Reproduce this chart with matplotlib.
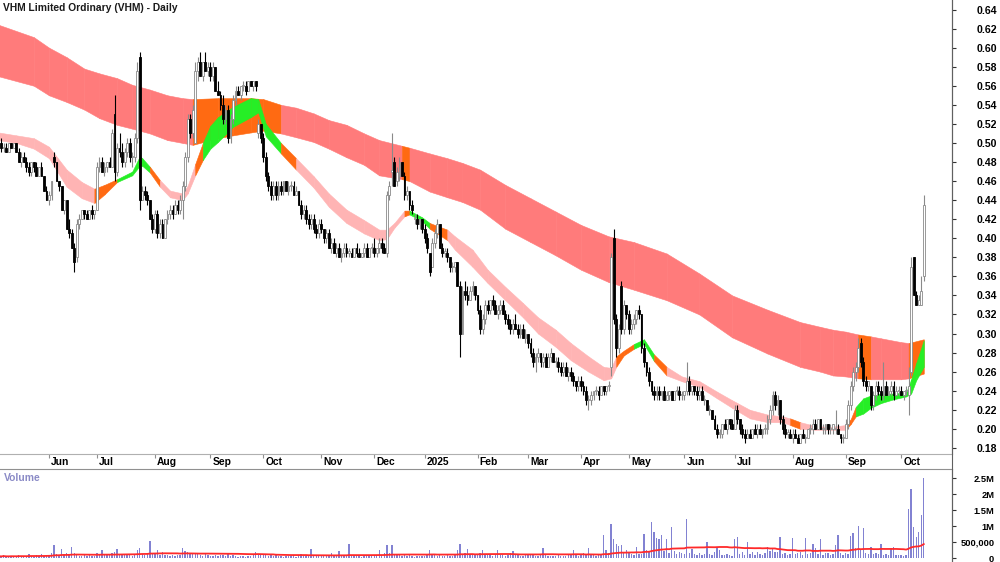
import numpy as np
import pandas as pd
import matplotlib
matplotlib.use('Agg')
import matplotlib.pyplot as plt
import matplotlib.transforms as mtransforms
from matplotlib.lines import Line2D

plt.rcParams['font.family'] = ['Liberation Sans', 'DejaVu Sans']

title = 'VHM Limited Ordinary (VHM) - Daily'

# ASX trading calendar for the window shown
holidays = ['2024-06-10', '2024-12-25', '2024-12-26', '2025-01-01', '2025-01-27',
            '2025-04-18', '2025-04-21', '2025-04-25', '2025-06-09']

# daily prices in cents, one line per month (May 2024 .. Oct 2025)
opens = [
    49, 50, 49.5, 49.5, 49, 50, 49.5, 50, 49, 48, 48.5, 48, 47.5, 47, 48, 47.5, 46.5, 47.5, 46.5, 45,
    44, 44.5, 48.5, 48, 46, 45.5, 43, 44, 41, 40.5, 39, 38, 41.5, 42, 43, 42.5, 42, 43, 42.5,
    43, 47.5, 48, 47, 47.5, 48, 47.5, 53, 47, 49.5, 49, 48, 49, 50, 48.5, 48.5, 50.5, 59, 44, 45, 44.5, 44, 42,
    41, 42.5, 40.5, 41.5, 40, 42, 42.5, 43, 42.5, 43.5, 43, 44, 45.5, 48.5, 52.5, 51, 50, 57.5, 58.5, 57, 58.5, 57.5,
    58, 57, 58, 55.5, 55, 54, 52.5, 53.5, 50.5, 52.5, 54.5, 55.5, 55, 56, 56, 55.5, 56.5, 56, 56.5, 51, 52,
    50.5, 48.5, 46.5, 45.5, 44.5, 45.5, 44.5, 45.5, 45, 46, 45, 45.5, 45.5, 44.5, 45, 43.5, 42.5, 43, 42, 41.5, 42, 41, 40.5,
    41.5, 41, 40, 40.5, 39, 39.5, 38.5, 39, 38, 38.5, 39, 38.5, 38.5, 38, 39, 38.5, 38, 38.5, 39, 38, 39,
    39, 38.5, 39, 39.5, 39, 38.5, 44.5, 47, 48, 46, 46.5, 48, 46.5, 44.5, 45, 43.5, 42, 42, 41.5, 42,
    41, 40, 38.5, 37, 39.5, 40.5, 41.5, 39, 38.5, 38.5, 38, 37, 37, 37.5, 35, 30, 34.5, 34, 33.5, 34.5, 35,
    34, 32.5, 30.5, 31.5, 33, 32.5, 33.5, 33, 32, 32.5, 33, 32, 31.5, 31, 30.5, 31, 30.5, 30, 30.5, 29.5,
    30, 29, 28, 27, 27.5, 28, 27, 27.5, 26.5, 27.5, 28, 27, 27, 26.5, 26, 26.5, 25.5, 26, 25.5, 25, 24.5,
    25, 24.5, 24, 23, 23, 23.5, 24, 24, 23.5, 24.5, 24, 24.5, 26.5, 40, 31.5, 28.5, 35, 30.5, 33,
    32, 30.5, 31, 31.5, 32.5, 32, 28.5, 27, 26, 25, 24, 23.5, 24, 23.5, 24, 23, 23.5, 24, 23, 24, 24, 23.5,
    23.5, 24, 25, 24, 24.5, 24, 23.5, 24, 23, 23, 22, 22, 21, 20, 19.5, 19.5, 20.5, 20, 21, 20.5,
    20, 22, 21, 20, 19.5, 19, 19.5, 19, 20, 19.5, 20, 19.5, 20, 20, 21, 22, 23.5, 22.5, 23, 21, 20, 19.5, 19.5,
    19, 19.5, 19, 18.5, 19.5, 19, 19, 20, 20, 20.5, 20, 21, 20, 20, 20.5, 20, 20, 20, 20, 19.5, 19,
    19, 20.5, 22.5, 24.5, 26, 26.5, 29, 27, 25, 24.5, 24.5, 22.5, 23.5, 24.5, 24, 23.5, 24.5, 23.5, 24, 24.5, 23.5, 24,
    24, 23.5, 24, 23.5, 26, 38, 34, 33, 33, 36,
]
highs = [
    50, 50.5, 50, 50, 50, 50, 50, 50, 49.5, 49, 49, 48.5, 48, 48, 48, 48, 47.5, 48, 46.5, 45.5,
    45, 46, 49, 48, 46, 45.5, 44, 44, 42, 41, 39.5, 42, 42.5, 43, 43, 43, 43, 43.5, 43,
    48, 48.5, 48.5, 48, 48, 48.5, 51.5, 55, 50, 51, 50, 49.5, 50.5, 50.5, 49, 51, 58.5, 59.5, 45.5, 45.5, 45, 44, 42.5,
    43, 43, 42, 42, 42, 43, 43.5, 43.5, 44, 44, 44.5, 46, 49, 53, 53, 54, 58.5, 59, 59.5, 58.5, 59.5, 58.5,
    58.5, 58.5, 58, 56.5, 55.5, 55, 54, 54, 53, 55, 56, 56, 56, 56.5, 56.5, 56.5, 56.5, 56.5, 56.5, 52.5, 52,
    51, 49, 47, 46, 46, 46, 46, 46, 46, 46, 46, 46, 46, 45.5, 45, 44, 43.5, 43.5, 42.5, 42.5, 42.5, 41.5, 42,
    42, 41, 41, 41, 40, 40, 39.5, 39.5, 39, 39.5, 39.5, 39, 39, 39, 39.5, 39, 38.5, 39.5, 39.5, 39, 39.5,
    40, 39, 40, 40, 39.5, 45, 46, 51, 48.5, 47.5, 48.5, 48, 47, 45.5, 45, 44, 42.5, 42.5, 42, 42,
    41.5, 40.5, 38.5, 40, 41, 42, 41.5, 39.5, 39, 39, 38, 37.5, 37.5, 37.5, 35.5, 35, 35.5, 35, 35, 35.5, 35,
    34, 33, 32, 33.5, 33.5, 33.5, 34, 33.5, 33, 33.5, 33.5, 32.5, 32, 31.5, 31.5, 32, 31, 31, 31, 30.5,
    30, 29.5, 28.5, 28, 28.5, 28, 28, 28, 28, 28.5, 28, 27.5, 27.5, 27, 27, 27, 26.5, 26.5, 26, 25, 25.5,
    25.5, 25, 24.5, 23.5, 24, 24, 24.5, 24.5, 24.5, 24.5, 24.5, 25, 38.5, 41, 32, 31, 35.5, 33.5, 33,
    32.5, 31.5, 32, 32.5, 33, 32, 29, 27, 26.5, 25, 24.5, 24.5, 24.5, 24, 24.5, 24, 24, 24, 24, 24.5, 24.5, 24,
    24, 27, 25.5, 24.5, 24.5, 24.5, 24.5, 24.5, 23.5, 23, 22.5, 22, 21.5, 20.5, 20, 20.5, 21, 21, 21, 21,
    22.5, 22.5, 21, 20.5, 20, 20, 20, 20, 20.5, 20.5, 20.5, 20, 20.5, 21.5, 22.5, 24, 24, 23.5, 23, 21.5, 20.5, 20, 20,
    20, 20, 19.5, 19.5, 20, 19.5, 20, 20.5, 21, 21, 21, 21, 20.5, 20.5, 20.5, 20.5, 20.5, 22, 20.5, 19.5, 19.5,
    21, 23, 25, 26.5, 27, 29.5, 29.5, 27.5, 25.5, 25, 24.5, 24, 25, 25, 24.5, 27, 25, 24.5, 25, 25, 24.5, 24.5,
    24.5, 24, 24.5, 26.5, 38, 38, 34.5, 34, 36, 44.5,
]
lows = [
    48, 49, 49, 49, 49, 49.5, 49.5, 49, 48, 47.5, 48, 47, 46.5, 46.5, 47, 46.5, 46.5, 46.5, 45, 44,
    43.5, 44, 47.5, 46, 45, 43, 42.5, 41, 40, 39, 36.5, 37.5, 41, 42, 42, 42, 42, 42, 42,
    43, 47, 47, 46.5, 47, 47.5, 47.5, 46, 46.5, 48.5, 47.5, 47.5, 48.5, 48, 47.5, 48, 50, 43, 44, 44, 43.5, 42, 40.5,
    40.5, 40, 40, 40, 40, 41.5, 42, 42, 42.5, 42.5, 42.5, 42, 45, 48, 50.5, 50.5, 50, 56.5, 57, 56.5, 57.5, 57,
    56.5, 56.5, 55.5, 55, 53.5, 52, 52, 50, 50, 52, 54, 55, 54.5, 55.5, 55, 55.5, 56, 55.5, 55.5, 50.5, 50,
    48, 46, 45, 44, 44, 44, 44, 44.5, 44.5, 45, 44.5, 45, 44.5, 44.5, 43.5, 42, 42, 41.5, 41, 41, 40.5, 40, 40,
    40.5, 39.5, 39.5, 39, 38.5, 38.5, 38, 38, 37.5, 38, 38, 38, 38, 38, 38, 38, 38, 38, 38, 38, 38.5,
    38, 38, 38.5, 38.5, 38.5, 38, 44, 45.5, 45.5, 45.5, 46, 46.5, 44, 44, 43, 42.5, 41.5, 41, 41, 40.5,
    39.5, 38.5, 36, 37, 39, 40, 39, 38, 38, 37.5, 36.5, 36.5, 36.5, 35, 27.5, 30, 33.5, 33, 33.5, 34, 33.5,
    32, 30, 30, 31, 32, 32, 32.5, 32, 31.5, 32, 32, 31, 30.5, 30, 30, 30.5, 29.5, 29.5, 29.5, 29,
    28.5, 27.5, 26.5, 26, 27, 26.5, 26.5, 26.5, 26.5, 27, 27, 26.5, 26, 25.5, 25.5, 25.5, 25, 25, 24.5, 24, 24,
    24, 23.5, 22.5, 22, 22.5, 23, 23.5, 23, 23.5, 23.5, 23.5, 24, 25.5, 31, 27.5, 28, 30, 30, 31.5,
    30, 30, 30.5, 31, 31.5, 28, 26.5, 25.5, 24.5, 23.5, 23, 23, 23, 23, 23, 23, 23, 23, 23, 23.5, 23, 23,
    23, 23.5, 23.5, 23.5, 23.5, 23, 23, 23, 22.5, 22, 21.5, 21, 20, 19, 19, 19, 20, 19.5, 20, 20,
    20, 20.5, 19.5, 19, 18.5, 19, 19, 19, 19.5, 19, 19.5, 19, 19.5, 19.5, 20.5, 21.5, 22, 21.5, 20.5, 19.5, 19, 19, 19,
    18.5, 19, 18.5, 18.5, 19, 18.5, 19, 19.5, 19.5, 20, 20, 20, 19.5, 19.5, 19.5, 19.5, 19.5, 19.5, 19.5, 18.5, 18.5,
    19, 20, 22, 24, 25, 26, 26.5, 24.5, 24, 24, 22, 22, 23, 23.5, 23, 23, 23.5, 23.5, 23.5, 23, 23.5, 23.5,
    23.5, 23, 23.5, 21.5, 25.5, 34, 33, 33, 33, 35.5,
]
closes = [
    50, 49.5, 49.5, 49, 50, 49.5, 50, 49, 48, 48.5, 48, 47.5, 47, 48, 47.5, 46.5, 47.5, 46.5, 45, 44,
    44.5, 46, 48, 46, 45.5, 43, 44, 41, 40.5, 39, 37.5, 41.5, 42, 43, 42.5, 42, 43, 42.5, 43,
    47.5, 48, 47, 47.5, 48, 47.5, 51, 47, 49.5, 49, 48, 49, 50, 48.5, 48.5, 50.5, 57.5, 44, 45, 44.5, 44, 42, 41,
    42.5, 40.5, 41.5, 40, 42, 42.5, 43, 42.5, 43.5, 43, 44, 45.5, 48.5, 52.5, 51, 53.5, 57.5, 58.5, 57, 58.5, 57.5, 58,
    57, 58, 55.5, 55, 54, 52.5, 53.5, 50.5, 52.5, 54.5, 55.5, 55, 56, 56, 55.5, 56.5, 56, 56.5, 56, 52, 50.5,
    48.5, 46.5, 45.5, 44.5, 45.5, 44.5, 45.5, 45, 46, 45, 45.5, 45.5, 44.5, 45, 43.5, 42.5, 43, 42, 41.5, 42, 41, 40.5, 41.5,
    41, 40, 40.5, 39, 39.5, 38.5, 39, 38, 38.5, 39, 38.5, 38.5, 38, 39, 38.5, 38, 38.5, 39, 38, 39, 39,
    38.5, 39, 39.5, 39, 38.5, 44.5, 45.5, 47, 45.5, 47, 48, 46.5, 44.5, 45, 43.5, 43, 42, 41.5, 42, 41,
    40, 39, 36.5, 39.5, 40.5, 41.5, 39, 38.5, 38.5, 38, 37, 37, 37.5, 35, 30, 34.5, 34, 33.5, 34.5, 35, 34,
    32.5, 30.5, 31.5, 33, 32.5, 33.5, 33, 32, 32.5, 33, 32, 31.5, 31, 30.5, 31, 30.5, 30, 30.5, 29.5, 30,
    29, 28, 27, 27.5, 28, 27, 27.5, 26.5, 27.5, 28, 27, 27, 26.5, 26, 26.5, 25.5, 26, 25.5, 25, 24.5, 25,
    24.5, 24, 23, 23, 23.5, 24, 24, 23.5, 24.5, 24, 24.5, 24.5, 38, 31.5, 28.5, 30.5, 30.5, 33, 32,
    30.5, 31, 31.5, 32.5, 32, 28.5, 27, 26, 25, 24, 23.5, 24, 23.5, 24, 23, 23.5, 24, 23, 24, 24, 23.5, 23.5,
    24, 25, 24, 24.5, 24, 23.5, 24, 23, 23, 22, 22, 21, 20, 19.5, 19.5, 20.5, 20, 21, 20.5, 20,
    22, 21, 20, 19.5, 19, 19.5, 19, 20, 19.5, 20, 19.5, 20, 20, 21, 22, 23.5, 22.5, 23, 21, 20, 19.5, 19.5, 19,
    19.5, 19, 18.5, 19.5, 19, 19, 20, 20, 20.5, 20, 21, 20, 20, 20.5, 20, 20, 20.5, 20, 19.5, 19, 19,
    20.5, 22.5, 24.5, 26, 26.5, 28.5, 27, 25, 24.5, 25, 22.5, 23.5, 24.5, 24, 23.5, 24.5, 23.5, 24, 24.5, 23.5, 24, 24,
    23.5, 24, 24, 24.5, 37, 34, 33, 33.5, 34.5, 43.5,
]
# daily volume in thousands of shares
volume_k = [
    60, 40, 80, 30, 50, 70, 40, 60, 90, 50, 40, 70, 110, 60, 40, 80, 50, 120, 70, 90,
    80, 150, 400, 130, 90, 290, 110, 170, 100, 340, 160, 120, 70, 60, 90, 50, 80, 60, 70,
    150, 90, 240, 80, 100, 120, 150, 190, 270, 110, 90, 130, 100, 80, 70, 140, 250, 310, 120, 90, 150, 530, 160,
    110, 240, 90, 190, 100, 80, 70, 90, 60, 80, 100, 310, 230, 190, 120, 140, 150, 110, 90, 70, 120, 80,
    70, 60, 90, 50, 80, 100, 60, 120, 70, 90, 60, 40, 50, 60, 40, 70, 50, 80, 190, 120, 130,
    90, 110, 70, 80, 60, 90, 50, 60, 40, 70, 50, 60, 80, 40, 90, 120, 60, 70, 80, 290, 100, 70, 60,
    60, 80, 50, 90, 170, 60, 70, 210, 80, 60, 50, 430, 90, 60, 70, 50, 40, 60, 50, 70, 60,
    60, 80, 260, 90, 170, 400, 150, 400, 120, 90, 100, 70, 110, 60, 80, 50, 40, 60, 50, 70,
    60, 90, 240, 100, 80, 70, 90, 60, 50, 80, 60, 70, 90, 240, 450, 120, 170, 290, 100, 80, 90,
    110, 150, 240, 90, 80, 100, 70, 120, 240, 90, 80, 70, 100, 150, 210, 80, 90, 60, 70, 80,
    90, 100, 80, 70, 60, 90, 310, 80, 60, 70, 50, 60, 80, 50, 70, 60, 90, 80, 240, 100, 70,
    90, 170, 120, 310, 100, 80, 70, 90, 110, 710, 240, 150, 1070, 580, 450, 375, 400, 200, 250,
    190, 120, 100, 340, 110, 130, 740, 250, 180, 1120, 820, 635, 580, 720, 220, 600, 150, 970, 220, 110, 200, 150,
    110, 1230, 150, 270, 120, 100, 150, 90, 130, 510, 120, 100, 190, 320, 250, 90, 80, 110, 90, 70,
    600, 660, 120, 200, 90, 500, 110, 180, 90, 200, 120, 80, 150, 340, 220, 300, 180, 200, 650, 140, 150, 90, 110,
    635, 120, 150, 200, 100, 635, 110, 150, 430, 310, 120, 600, 100, 150, 150, 90, 120, 410, 720, 150, 100,
    150, 120, 690, 790, 310, 1000, 250, 950, 150, 120, 340, 130, 150, 110, 450, 100, 140, 90, 310, 330, 100, 80,
    100, 60, 80, 1540, 2170, 970, 660, 820, 1340, 2490,
]

# long-term ribbon edges, colour code for the stretch that follows each point
long_dates = ['2024-05-06', '2024-05-24', '2024-06-03', '2024-06-13', '2024-06-24', '2024-07-02',
              '2024-07-11', '2024-07-19', '2024-07-30', '2024-08-08', '2024-08-16', '2024-08-22',
              '2024-09-05', '2024-09-13', '2024-09-24', '2024-10-01', '2024-10-10', '2024-10-18',
              '2024-10-29', '2024-11-06', '2024-11-15', '2024-11-26', '2024-12-04', '2024-12-17',
              '2024-12-20', '2025-01-06', '2025-01-15', '2025-01-23', '2025-02-04', '2025-02-18',
              '2025-03-04', '2025-03-18', '2025-04-01', '2025-04-16', '2025-05-05', '2025-05-22',
              '2025-06-11', '2025-06-30', '2025-07-18', '2025-08-06', '2025-08-18', '2025-08-25',
              '2025-09-01', '2025-09-08', '2025-09-15', '2025-09-19', '2025-10-01', '2025-10-06',
              '2025-10-14']
long_top = [0.624, 0.611, 0.600, 0.590, 0.578, 0.573, 0.568, 0.561, 0.556, 0.550, 0.547, 0.546,
            0.547, 0.547, 0.547, 0.546, 0.540, 0.537, 0.531, 0.524, 0.519, 0.510, 0.503, 0.497,
            0.495, 0.489, 0.484, 0.479, 0.472, 0.456, 0.442, 0.428, 0.414, 0.402, 0.396, 0.384,
            0.363, 0.340, 0.325, 0.312, 0.307, 0.304, 0.302, 0.299, 0.297, 0.295, 0.291, 0.290,
            0.294]
long_bot = [0.570, 0.560, 0.550, 0.543, 0.535, 0.526, 0.519, 0.515, 0.510, 0.503, 0.500, 0.498,
            0.505, 0.508, 0.511, 0.513, 0.510, 0.506, 0.501, 0.494, 0.485, 0.477, 0.466, 0.462,
            0.460, 0.449, 0.443, 0.438, 0.430, 0.410, 0.396, 0.382, 0.367, 0.354, 0.346, 0.335,
            0.320, 0.296, 0.279, 0.265, 0.260, 0.256, 0.255, 0.253, 0.252, 0.252, 0.252, 0.253,
            0.258]
long_col = 'rrrrrrrrrrrooooorrrrrrrorrrrrrrrrrrrrrrrrrrorrror'

# short-term ribbon
short_dates = ['2024-05-06', '2024-05-15', '2024-05-24', '2024-06-03', '2024-06-13', '2024-06-21',
               '2024-06-28', '2024-07-04', '2024-07-11', '2024-07-19', '2024-07-24', '2024-07-25',
               '2024-07-30', '2024-08-05', '2024-08-09', '2024-08-16', '2024-08-20', '2024-08-23',
               '2024-08-28', '2024-09-02', '2024-09-05', '2024-09-13', '2024-09-24', '2024-09-27',
               '2024-10-02', '2024-10-10', '2024-10-18', '2024-10-29', '2024-11-06', '2024-11-15',
               '2024-11-26', '2024-12-04', '2024-12-09', '2024-12-12', '2024-12-18', '2024-12-20',
               '2024-12-31', '2025-01-06', '2025-01-15', '2025-01-20', '2025-01-30', '2025-02-07',
               '2025-02-18', '2025-02-27', '2025-03-07', '2025-03-18', '2025-03-26', '2025-04-04',
               '2025-04-14', '2025-04-17', '2025-04-23', '2025-04-29', '2025-05-05', '2025-05-09',
               '2025-05-15', '2025-05-22', '2025-05-30', '2025-06-11', '2025-06-20', '2025-06-30',
               '2025-07-09', '2025-07-18', '2025-07-28', '2025-07-31', '2025-08-06', '2025-08-14',
               '2025-08-22', '2025-09-01', '2025-09-03', '2025-09-05', '2025-09-10', '2025-09-15',
               '2025-09-19', '2025-09-26', '2025-10-03', '2025-10-07', '2025-10-09', '2025-10-14']
short_top = [0.511, 0.508, 0.505, 0.496, 0.472, 0.459, 0.452, 0.456, 0.462, 0.470, 0.486, 0.484,
             0.475, 0.461, 0.450, 0.447, 0.455, 0.478, 0.500, 0.518, 0.527, 0.538, 0.547, 0.546,
             0.520, 0.500, 0.484, 0.465, 0.447, 0.430, 0.419, 0.409, 0.409, 0.416, 0.429, 0.429,
             0.422, 0.416, 0.409, 0.402, 0.388, 0.367, 0.349, 0.332, 0.317, 0.304, 0.290, 0.276,
             0.265, 0.264, 0.276, 0.282, 0.289, 0.294, 0.278, 0.265, 0.255, 0.250, 0.239, 0.230,
             0.220, 0.215, 0.213, 0.211, 0.207, 0.203, 0.202, 0.204, 0.210, 0.223, 0.232, 0.235,
             0.237, 0.237, 0.238, 0.252, 0.269, 0.293]
short_bot = [0.503, 0.500, 0.494, 0.484, 0.454, 0.442, 0.437, 0.446, 0.459, 0.466, 0.476, 0.476,
             0.469, 0.454, 0.443, 0.440, 0.447, 0.466, 0.482, 0.494, 0.501, 0.517, 0.527, 0.532,
             0.507, 0.489, 0.472, 0.453, 0.433, 0.416, 0.405, 0.398, 0.399, 0.411, 0.423, 0.425,
             0.418, 0.410, 0.398, 0.388, 0.370, 0.353, 0.335, 0.317, 0.300, 0.286, 0.272, 0.260,
             0.251, 0.253, 0.265, 0.277, 0.284, 0.289, 0.271, 0.256, 0.250, 0.244, 0.232, 0.222,
             0.211, 0.207, 0.207, 0.204, 0.200, 0.199, 0.199, 0.199, 0.205, 0.213, 0.216, 0.222,
             0.227, 0.231, 0.234, 0.237, 0.251, 0.265]
short_col = 'ppppppooggggoppppogggggggoppppppppoggoppppppppppppooggoppppppppopppooggggggggggg'

month_starts = ['2024-06-03', '2024-07-01', '2024-08-01', '2024-09-02', '2024-10-01', '2024-11-01',
                '2024-12-02', '2025-01-02', '2025-02-03', '2025-03-03', '2025-04-01', '2025-05-01',
                '2025-06-02', '2025-07-01', '2025-08-01', '2025-09-01', '2025-10-01']
month_labels = ['Jun', 'Jul', 'Aug', 'Sep', 'Oct', 'Nov', 'Dec', '2025', 'Feb', 'Mar', 'Apr', 'May',
                'Jun', 'Jul', 'Aug', 'Sep', 'Oct']

price_ticks = np.arange(0.18, 0.6401, 0.02)
vol_ticks = [0, 500000, 1000000, 1500000, 2000000, 2500000]
vol_tick_labels = ['0', '500,000', '1M', '1.5M', '2M', '2.5M']

band_colors = {'r': '#ff7b7b', 'p': '#ffb4b4', 'o': '#ff6a12', 'g': '#26ee26'}

# ---- build
dates = pd.bdate_range('2024-05-06', '2025-10-14')
dates = dates[~dates.isin(pd.to_datetime(holidays))]
n = min(len(dates), len(closes))
o = np.array(opens[:n]) / 100
h = np.array(highs[:n]) / 100
l = np.array(lows[:n]) / 100
c = np.array(closes[:n]) / 100
vol = np.array(volume_k[:n]) * 1000.0
x = np.arange(n)

def pos(ds):
    return dates.searchsorted(pd.to_datetime(ds)).astype(float)

fig = plt.figure(figsize=(10, 5.62), dpi=100)
ax = fig.add_axes([0, 108 / 562, 0.952, 454 / 562])
axv = fig.add_axes([0, 0, 0.952, 93 / 562])

# ribbons
def ribbon(xs, top, bot, cols, z):
    for i in range(len(xs) - 1):
        col = band_colors[cols[i]]
        ax.fill_between(xs[i:i + 2], bot[i:i + 2], top[i:i + 2], facecolor=col,
                        edgecolor=col, lw=0.4, zorder=z)

ribbon(pos(long_dates), long_top, long_bot, long_col, 1)
ribbon(pos(short_dates), short_top, short_bot, short_col, 2)

# candles
up = c >= o
body_lo = np.minimum(o, c)
body_h = np.maximum(np.abs(c - o), 0.0012)
ax.vlines(x[up], l[up], h[up], color='#8a8a8a', lw=0.8, zorder=4)
ax.vlines(x[~up], l[~up], h[~up], color='black', lw=0.8, zorder=4)
ax.bar(x[up], body_h[up], 0.72, bottom=body_lo[up], color='white', edgecolor='#8a8a8a', lw=0.6, zorder=5)
ax.bar(x[~up], body_h[~up], 0.72, bottom=body_lo[~up], color='black', edgecolor='black', lw=0.6, zorder=5)

xl = (0.56, 378.2)
ax.set_xlim(*xl)
ax.set_ylim(0.1736, 0.650)

# volume
axv.bar(x, vol, 0.55, color='#8282d2', lw=0)
vma = pd.Series(vol).rolling(50, min_periods=1).mean()
axv.plot(x, vma, color='#ff2a2a', lw=1.3)
axv.set_xlim(*xl)
axv.set_ylim(-125000, 2781250)

# axes styling
for a in (ax, axv):
    a.yaxis.tick_right()
    a.spines['left'].set_visible(False)
    a.spines['right'].set_color('#606060')
ax.spines['top'].set_visible(False)
ax.spines['bottom'].set_color('#b0b0b0')
axv.spines['bottom'].set_visible(False)
axv.spines['top'].set_color('#909090')
# right axis line runs through the gap between panels
fig.add_artist(Line2D([0.952, 0.952], [0, 1], transform=fig.transFigure, color='#606060', lw=0.8))

ax.set_yticks(price_ticks)
ax.set_yticklabels([f'{v:.2f}' for v in price_ticks])
ax.tick_params(axis='y', length=3, pad=29.5, labelsize=7.6, colors='#333333', labelcolor='black')
axv.set_yticks(vol_ticks)
axv.set_yticklabels(vol_tick_labels)
axv.tick_params(axis='y', length=3, pad=27.5, labelsize=6.7, colors='#333333', labelcolor='black')
for a in (ax, axv):
    for t in a.get_yticklabels():
        t.set_ha('right')
        t.set_fontweight('bold')

mpos = pos(month_starts)
ax.set_xticks(mpos)
ax.tick_params(axis='x', length=3, direction='out', color='#909090', labelbottom=False)
axv.set_xticks([])
trans = mtransforms.blended_transform_factory(ax.transData, ax.transAxes)
for p, lab in zip(mpos, month_labels):
    ax.text(p + 0.9, -0.006, lab, transform=trans, ha='left', va='top',
            fontsize=7.4, fontweight='bold', color='black', clip_on=False)

fig.text(0.003, 0.995, title, ha='left', va='top', fontsize=7.4, fontweight='bold', color='#1a1a1a')
fig.text(0.004, 0.149, 'Volume', ha='left', va='center', fontsize=7.4, fontweight='bold', color='#8a8ac6')

fig.savefig('out.png', dpi=100)
